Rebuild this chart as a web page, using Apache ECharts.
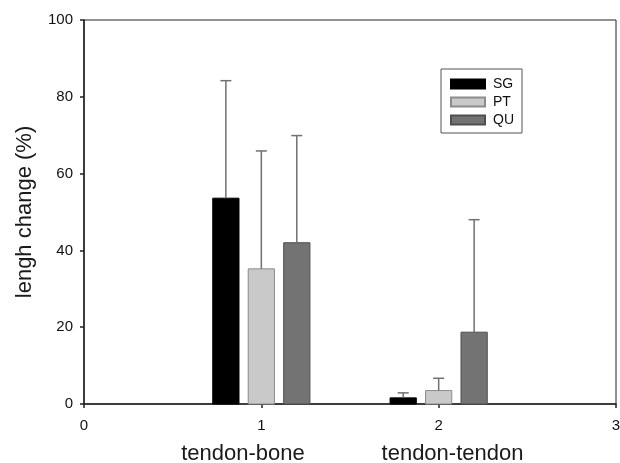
<!DOCTYPE html>
<html>
<head>
<meta charset="utf-8">
<script src="https://cdn.jsdelivr.net/npm/echarts@6/dist/echarts.min.js"></script>
<style>html,body{margin:0;padding:0;background:#fff}#c{width:620px;height:463px}</style>
</head>
<body>
<div id="c"></div>
<script>
// ---- data ----
const groupPositions = [1, 2];
const groupLabels = ['tendon-bone', 'tendon-tendon'];
const seriesNames = ['SG', 'PT', 'QU'];
const sgValues = [53.6, 1.6];
const sgErrors = [30.6, 1.3];
const ptValues = [35.2, 3.5];
const ptErrors = [30.7, 3.2];
const quValues = [42.0, 18.7];
const quErrors = [27.9, 29.3];
const yTicks = [0, 20, 40, 60, 80, 100];
const xTicks = [0, 1, 2, 3];

// ---- style/layout ----
const fills = ['#000000', '#c9c9c9', '#737373'];
const strokes = ['#000000', '#8c8c8c', '#4f4f4f'];
const offsets = [-0.2, 0, 0.2];
const barW = 0.148;
const errColor = '#707070';
const labelCenters = [243, 452.5];

function makeSeries(idx, values, errors) {
  return {
    name: seriesNames[idx],
    type: 'custom',
    itemStyle: { color: fills[idx], borderColor: strokes[idx], borderWidth: 1 },
    data: groupPositions.map((p, i) => [p, values[i], errors[i]]),
    renderItem: function (params, api) {
      const x = api.value(0) + offsets[idx];
      const v = api.value(1);
      const e = api.value(2);
      const base = api.coord([x, 0]);
      const top = api.coord([x, v]);
      const eTop = api.coord([x, v + e]);
      const w = api.size([barW, 0])[0];
      const cap = 5.5;
      return {
        type: 'group',
        children: [
          { type: 'rect', shape: { x: base[0] - w / 2, y: top[1], width: w, height: base[1] - top[1] },
            style: { fill: fills[idx], stroke: strokes[idx], lineWidth: 1 } },
          { type: 'line', shape: { x1: top[0], y1: top[1], x2: eTop[0], y2: eTop[1] },
            style: { stroke: errColor, lineWidth: 1.5 } },
          { type: 'line', shape: { x1: eTop[0] - cap, y1: eTop[1], x2: eTop[0] + cap, y2: eTop[1] },
            style: { stroke: errColor, lineWidth: 1.5 } }
        ]
      };
    }
  };
}

const chart = echarts.init(document.getElementById('c'), null, { renderer: 'canvas' });
const font = 'Liberation Sans, Arial, sans-serif';
chart.setOption({
  animation: false,
  backgroundColor: '#fff',
  grid: { left: 84, right: 4, top: 20, bottom: 59, outerBoundsMode: 'none', containLabel: false,
          show: true, borderColor: '#222', borderWidth: 1, backgroundColor: 'transparent' },
  xAxis: {
    type: 'value', min: xTicks[0], max: xTicks[xTicks.length - 1], interval: 1,
    axisLine: { show: true, onZero: false, lineStyle: { color: '#222', width: 1.5 } },
    axisTick: { show: true, inside: false, length: 4, lineStyle: { color: '#222', width: 1.5 } },
    axisLabel: { fontSize: 15, color: '#111', fontFamily: font, margin: 14, showMaxLabel: true },
    splitLine: { show: false }
  },
  yAxis: {
    type: 'value', min: yTicks[0], max: yTicks[yTicks.length - 1], interval: 20,
    name: 'lengh change (%)', nameLocation: 'middle', nameGap: 48,
    nameTextStyle: { fontSize: 22, color: '#1a1a1a', fontFamily: font },
    axisLine: { show: true, lineStyle: { color: '#222', width: 1.5 } },
    axisTick: { show: true, inside: false, length: 4, lineStyle: { color: '#222', width: 1.5 } },
    axisLabel: { fontSize: 15, color: '#111', fontFamily: font, margin: 11 },
    splitLine: { show: false }
  },
  legend: {
    orient: 'vertical', left: 441, top: 69,
    data: seriesNames,
    icon: 'rect', itemWidth: 34, itemHeight: 9, itemGap: 4,
    padding: [8, 8, 6, 9],
    borderColor: '#555', borderWidth: 1,
    textStyle: { fontSize: 14, color: '#111', fontFamily: font, lineHeight: 14, padding: [0, 0, 0, 3] },
    selectedMode: false
  },
  graphic: groupLabels.map((t, i) => ({
    type: 'text', x: labelCenters[i], y: 454,
    style: { text: t, font: '22px ' + font, fill: '#1a1a1a', align: 'center', verticalAlign: 'middle' }
  })),
  series: [
    makeSeries(0, sgValues, sgErrors),
    makeSeries(1, ptValues, ptErrors),
    makeSeries(2, quValues, quErrors)
  ]
});
</script>
</body>
</html>
